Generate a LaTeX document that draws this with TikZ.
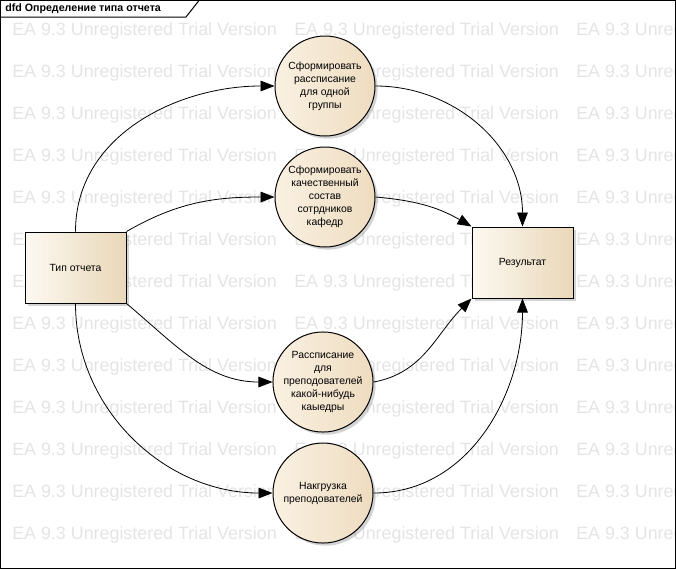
\documentclass[tikz,border=0pt]{standalone}
\usepackage{fontspec}
\setmainfont{Liberation Sans}
\usetikzlibrary{positioning}
\usetikzlibrary{arrows.meta}
\usetikzlibrary{shadows}
\definecolor{boxleft}{HTML}{FDF9F1}
\definecolor{boxright}{HTML}{E9D7B8}
\definecolor{procleft}{HTML}{FAF1E2}
\definecolor{procright}{HTML}{EEDCC0}
\definecolor{wmgray}{HTML}{E4E4E4}

\begin{document}
\begin{tikzpicture}[x=0.75pt,y=-0.75pt,
procnode/.style={circle, draw=black, line width=0.75pt, left color=procleft, right color=procright, minimum size=75pt, inner sep=0pt, align=center, font=\fontsize{7.8}{9.75}\selectfont, drop shadow={shadow xshift=2pt, shadow yshift=-2pt, opacity=0.35}},
entitynode/.style={rectangle, draw=black, line width=0.75pt, left color=boxleft, right color=boxright, minimum width=75.75pt, minimum height=53.25pt, font=\fontsize{7.8}{9.75}\selectfont, drop shadow={shadow xshift=2pt, shadow yshift=-2pt, opacity=0.35}},
watermark/.style={anchor=west, inner sep=0pt, text=wmgray, font=\fontsize{13.4}{16}\selectfont},
flow/.style={-{Triangle[length=10.5pt,width=8pt]}, line width=0.6pt}]
\useasboundingbox (0,0) rectangle (676,569);
\begin{scope}
\clip (0,0) rectangle (676,569);
\foreach \row in {0,...,12}
  \foreach \col in {0,1,2}
    \node[watermark] (wm-\row-\col) at (12+282*\col, 30.5+42*\row) {EA 9.3 Unregistered Trial Version};
\end{scope}

% frame and title tab
\draw[line width=0.75pt] (0.5,0.5) rectangle (675.5,568.5);
\node[anchor=west, inner sep=0pt, font=\fontsize{8}{9}\selectfont\bfseries] (title) at (5,9) {dfd Определение типа отчета};
\draw[line width=0.75pt] (0.5,17) -- (186,17) -- (199,0.5);

\node[entitynode] (type) at (75.5,267.5) {Тип отчета};
\node[entitynode] (result) at (522.5,262.5) {Результат};

\node[procnode] (group) at (325,86) {Сформировать\\рассписание\\для одной\\группы};
\node[procnode] (staff) [below=7.5pt of group] {Сформировать\\качественный\\состав\\сотрдников\\кафедр};
\node[procnode] (teachers) at (323,382) {Рассписание\\для\\преподователей\\какой-нибудь\\каыедры};
\node[procnode] (load) [below=7.5pt of teachers] {Накгрузка\\преподователей};

\draw[flow] (type.north) to[out=90,in=180] (group.west);
\draw[flow] (type.north east) to[out=30,in=180] (staff.west);
\draw[flow] (type.south east) to[out=-40,in=180] (teachers.west);
\draw[flow] (type.south) to[out=-90,in=180] (load.west);
\draw[flow] (group.east) to[out=0,in=90] (result.north);
\draw[flow] (staff.east) to[out=-5,in=150] (result.north west);
\draw[flow] (teachers.east) to[out=10,in=-135] (result.south west);
\draw[flow] (load.east) to[out=0,in=-90] (result.south);
\end{tikzpicture}
\end{document}
